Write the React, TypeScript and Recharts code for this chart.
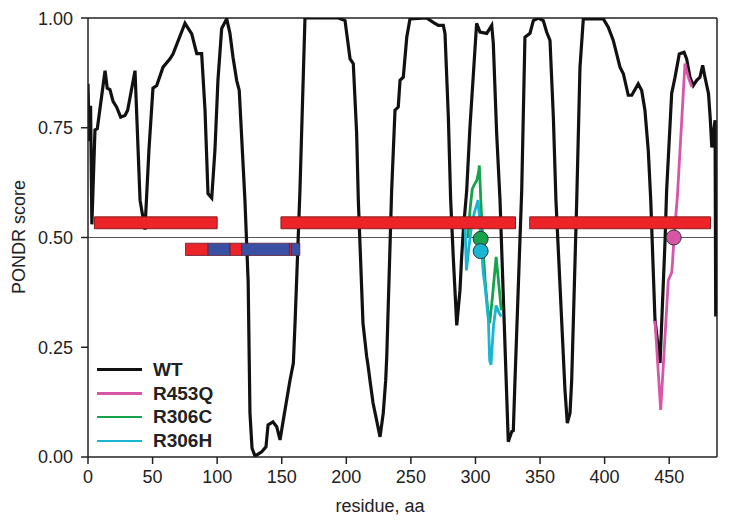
import {
  ComposedChart,
  Line,
  XAxis,
  YAxis,
  ReferenceLine,
  ReferenceArea,
  ReferenceDot,
  Legend,
  Label,
} from 'recharts';

// PONDR disorder profile, wild type
const wtResidue = [
  0, 1, 2, 3, 4, 5.4, 7.2, 13.2, 14.9, 17, 19.4, 22.2, 25.3, 28.6, 30.7, 36.4, 40.3, 44.1, 47.2, 50.3,
  53.2, 58.1, 63.5, 65.8, 75.1, 80.3, 84.2, 88, 90.6, 92.9, 95.8, 98.3, 100.6, 103.5, 107.4, 109.9,
  112.3, 115.1, 117.1, 121.5, 124, 125.4, 127, 129.3, 134.5, 137.8, 139.4, 143.2, 146.1, 148.7, 151.2,
  156.4, 159, 160.3, 164.1, 168, 193.8, 199, 200.3, 202.9, 205.4, 208, 209.3, 212.9, 215.8, 216.8,
  218.3, 220.7, 226.1, 228.6, 230.5, 231.3, 235.1, 237.7, 240.2, 241.6, 244.1, 246.8, 249.3, 262.2,
  267.3, 271.2, 275.1, 276.4, 279, 280.8, 282.8, 285.5, 288, 289.3, 290.7, 293.2, 295.7, 300.9, 303.5,
  308.7, 312.6, 313.8, 316.4, 319, 325.4, 328.1, 329.3, 330.6, 335.8, 338.3, 342.2, 344.8, 348.6,
  352.5, 355.1, 357.7, 360.3, 362.3, 369.3, 371.1, 373.2, 374.5, 378.4, 380.9, 383.5, 399, 402.8,
  406.7, 411.9, 414.5, 418.3, 421, 426, 428.7, 431.2, 433.8, 435.7, 439, 442.9, 446.8, 448, 451.9,
  454.5, 457.8, 461.5, 463.5, 466.1, 468.6, 471.3, 473.8, 475.9, 477.7, 480.4, 481.7, 483, 484.2,
  485.5, 486,
];
const wtScore = [
  0.85, 0.72, 0.8, 0.53, 0.62, 0.745, 0.748, 0.88, 0.84, 0.837, 0.81, 0.797, 0.774, 0.778, 0.79, 0.88,
  0.585, 0.518, 0.7, 0.84, 0.846, 0.888, 0.907, 0.918, 0.988, 0.964, 0.919, 0.919, 0.79, 0.6, 0.59,
  0.7, 0.858, 0.976, 0.998, 0.965, 0.91, 0.858, 0.835, 0.585, 0.4, 0.1, 0.02, 0.002, 0.012, 0.023,
  0.073, 0.08, 0.069, 0.039, 0.084, 0.175, 0.214, 0.305, 0.607, 1.0, 1.0, 0.994, 0.965, 0.907, 0.896,
  0.737, 0.585, 0.305, 0.228, 0.209, 0.175, 0.123, 0.046, 0.1, 0.175, 0.228, 0.607, 0.79, 0.797,
  0.858, 0.865, 0.956, 0.998, 1.0, 0.99, 0.983, 0.983, 0.965, 0.774, 0.585, 0.456, 0.3, 0.38, 0.456,
  0.52, 0.607, 0.75, 0.988, 0.968, 0.965, 0.983, 0.942, 0.737, 0.585, 0.035, 0.058, 0.06, 0.175,
  0.607, 0.956, 0.965, 0.994, 1.0, 0.994, 0.968, 0.949, 0.774, 0.585, 0.152, 0.077, 0.1, 0.175, 0.585,
  0.887, 0.998, 0.998, 0.979, 0.949, 0.888, 0.873, 0.824, 0.824, 0.85, 0.835, 0.79, 0.698, 0.585,
  0.312, 0.214, 0.494, 0.607, 0.828, 0.865, 0.918, 0.922, 0.907, 0.865, 0.846, 0.858, 0.865, 0.892,
  0.865, 0.828, 0.774, 0.705, 0.737, 0.767, 0.32,
];

// mutants (only the changed window)
const r453qResidue = [439, 443.4, 449.3, 451.9, 452.5, 453.7, 456.3, 462.2, 464.8, 467.5];
const r453qScore = [0.31, 0.107, 0.403, 0.42, 0.44, 0.5, 0.592, 0.896, 0.865, 0.843];

const r306cResidue = [294, 296, 297.5, 299, 301, 302.5, 303, 304.5, 306, 307.5, 310, 311, 313, 316, 318.5, 320];
const r306cScore = [0.5, 0.57, 0.61, 0.62, 0.63, 0.65, 0.664, 0.56, 0.47, 0.4, 0.32, 0.305, 0.36, 0.456, 0.38, 0.334];

const r306hResidue = [292, 293, 295, 296.5, 299, 302, 303, 304, 306, 307.5, 310, 311, 312, 314, 316, 318, 320];
const r306hScore = [0.52, 0.425, 0.48, 0.516, 0.555, 0.585, 0.55, 0.5, 0.42, 0.387, 0.312, 0.22, 0.21, 0.3, 0.345, 0.33, 0.32];

// predicted disordered regions (upper row)
const regionStart = [5, 149.4, 342];
const regionEnd = [100, 331, 482];
const regionLow = 0.52;
const regionHigh = 0.547;

// domain map (lower row)
const segStart = [75.5, 93, 110, 119, 156, 157.5];
const segEnd = [93, 110, 119, 156, 157.5, 164];
const segKind = ['d', 'o', 'd', 'o', 'd', 'o'];
const segLow = 0.459;
const segHigh = 0.487;

// mutation sites
const siteResidue = [304, 304, 453.5];
const siteScore = [0.497, 0.469, 0.5];
const siteName = ['R306C', 'R306H', 'R453Q'];

const seriesNames = ['WT', 'R453Q', 'R306C', 'R306H'];
const xTicks = [0, 50, 100, 150, 200, 250, 300, 350, 400, 450];
const yTicks = [0, 0.25, 0.5, 0.75, 1];

const COLORS: Record<string, string> = {
  WT: '#111111',
  R453Q: '#d955a7',
  R306C: '#17a24c',
  R306H: '#19b5d3',
};
const KIND_COLORS: Record<string, string> = { d: '#ec2329', o: '#3a51a3' };

const toPoints = (xs: number[], ys: number[]) => xs.map((res, i) => ({ res, score: ys[i] }));

const wt = toPoints(wtResidue, wtScore);
const r453q = toPoints(r453qResidue, r453qScore);
const r306c = toPoints(r306cResidue, r306cScore);
const r306h = toPoints(r306hResidue, r306hScore);

const axisColor = '#222';

function LegendBox() {
  return (
    <div style={{ fontFamily: '"Liberation Sans", Arial, sans-serif' }}>
      {seriesNames.map((name) => (
        <div key={name} style={{ display: 'flex', alignItems: 'center', height: 23.7 }}>
          <span
            style={{
              display: 'inline-block',
              width: 45,
              height: name === 'WT' ? 3 : 2.5,
              background: COLORS[name],
              marginRight: 11,
            }}
          />
          <span style={{ fontWeight: 'bold', fontSize: 19, color: '#222' }}>{name}</span>
        </div>
      ))}
    </div>
  );
}

export default function App() {
  return (
    <div style={{ fontFamily: '"Liberation Sans", Arial, sans-serif', width: 721, height: 510 }}>
      <ComposedChart width={721} height={510} margin={{ top: 10, right: 12, left: 0, bottom: 0 }}>
        <XAxis
          dataKey="res"
          type="number"
          domain={[0, 487]}
          ticks={xTicks}
          allowDataOverflow
          height={61}
          tickSize={7}
          tickMargin={6}
          tick={{ fontSize: 18, fill: axisColor }}
          axisLine={{ stroke: axisColor, strokeWidth: 1.5 }}
          tickLine={{ stroke: axisColor, strokeWidth: 1.5 }}
        >
          <Label
            content={() => (
              <text x={372} y={504} textAnchor="middle" fontSize={18} fill={axisColor}>
                residue, aa
              </text>
            )}
          />
        </XAxis>
        <YAxis
          type="number"
          domain={[0, 1]}
          ticks={yTicks}
          allowDataOverflow
          width={80}
          tickSize={7}
          tickMargin={8}
          tickFormatter={(v: number) => v.toFixed(2)}
          tick={{ fontSize: 18, fill: axisColor }}
          axisLine={{ stroke: axisColor, strokeWidth: 1.5 }}
          tickLine={{ stroke: axisColor, strokeWidth: 1.5 }}
        >
          <Label
            content={() => (
              <text transform="translate(17,229) rotate(-90)" textAnchor="middle" fontSize={18} fill={axisColor}>
                PONDR score
              </text>
            )}
          />
        </YAxis>

        <ReferenceLine y={1} stroke={axisColor} strokeWidth={1.5} />
        <ReferenceLine x={487} stroke={axisColor} strokeWidth={1.5} />
        <ReferenceLine y={0.5} stroke="#555" strokeWidth={1} />

        <Line data={wt} dataKey="score" name="WT" type="linear" stroke={COLORS.WT} strokeWidth={3.2} dot={false} isAnimationActive={false} />
        <Line data={r453q} dataKey="score" name="R453Q" type="linear" stroke={COLORS.R453Q} strokeWidth={2.8} dot={false} isAnimationActive={false} />
        <Line data={r306c} dataKey="score" name="R306C" type="linear" stroke={COLORS.R306C} strokeWidth={2.8} dot={false} isAnimationActive={false} />
        <Line data={r306h} dataKey="score" name="R306H" type="linear" stroke={COLORS.R306H} strokeWidth={2.8} dot={false} isAnimationActive={false} />

        {regionStart.map((s, i) => (
          <ReferenceArea
            key={`reg-${i}`}
            x1={s}
            x2={regionEnd[i]}
            y1={regionLow}
            y2={regionHigh}
            fill="#ec2329"
            fillOpacity={1}
            stroke="#8a1c1c"
            strokeWidth={1}
            zIndex={450}
          />
        ))}
        {segStart.map((s, i) => (
          <ReferenceArea
            key={`seg-${i}`}
            x1={s}
            x2={segEnd[i]}
            y1={segLow}
            y2={segHigh}
            fill={KIND_COLORS[segKind[i]]}
            fillOpacity={1}
            stroke="#5e2133"
            strokeWidth={0.8}
            zIndex={450}
          />
        ))}
        {siteResidue.map((r, i) => (
          <ReferenceDot
            key={`site-${i}`}
            x={r}
            y={siteScore[i]}
            r={7.5}
            fill={COLORS[siteName[i]]}
            stroke="#333"
            strokeWidth={1}
            zIndex={700}
          />
        ))}

        <Legend
          layout="vertical"
          align="center"
          verticalAlign="middle"
          wrapperStyle={{ left: 89, top: 350, width: 140 }}
          content={() => <LegendBox />}
        />
      </ComposedChart>
    </div>
  );
}
